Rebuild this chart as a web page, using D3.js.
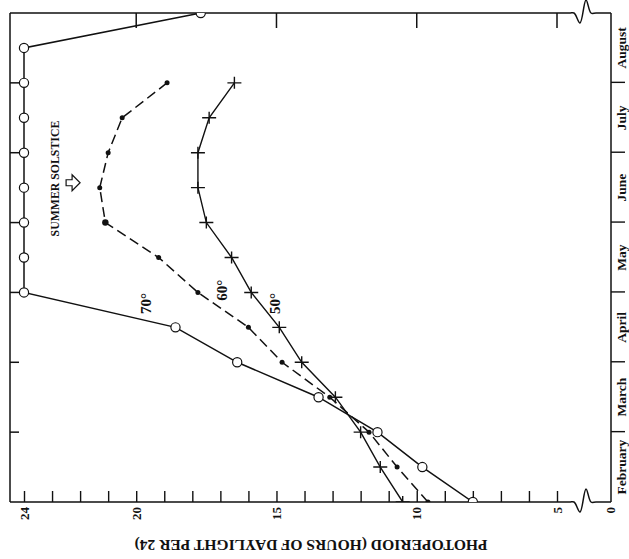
<!DOCTYPE html>
<html>
<head>
<meta charset="utf-8">
<script src="https://cdn.jsdelivr.net/npm/d3@7"></script>
<style>
body { margin: 0; background: #fff; }
svg { display: block; background: #fff; }
text { font-family: "Liberation Serif", "Times New Roman", serif; font-weight: bold; fill: #111; }
.tick line { stroke: #111; stroke-width: 1.4; }
.tick text { font-size: 13px; }
.month { font-size: 13.5px; }
.title { font-size: 15.6px; }
.lat { font-size: 15px; }
.note { font-size: 11.8px; }
</style>
</head>
<body>
<svg id="chart"></svg>
<script>
var months = ["February", "March", "April", "May", "June", "July", "August"];
// half-month steps, 0 = 1 February, 7 = end of August
var dates = [0, 0.5, 1, 1.5, 2, 2.5, 3, 3.5, 4, 4.5, 5, 5.5, 6, 6.5, 7];
var lat70 = [8.0, 9.8, 11.4, 13.5, 16.4, 18.6, 24, 24, 24, 24, 24, 24, 24, 24, 17.7];
var lat60 = [9.6, 10.7, 11.7, 13.1, 14.8, 16.0, 17.8, 19.2, 21.1, 21.3, 21.0, 20.5, 18.9];
var lat50 = [10.5, 11.3, 12.0, 12.9, 14.1, 14.9, 15.9, 16.6, 17.5, 17.8, 17.8, 17.4, 16.5];
var hourLabels = [24, 20, 15, 10, 5];
var latLabels = [
    { text: "70°", t: 2.84, v: 19.65 },
    { text: "60°", t: 3.03, v: 16.95 },
    { text: "50°", t: 2.84, v: 15.05 }
];
var solstice = { text: "SUMMER SOLSTICE", t: 4.63, v: 22.9, arrowT: 4.57, arrowV: 22.25 };

var width = 629,
    height = 559;

var svg = d3.select("#chart")
    .attr("width", width)
    .attr("height", height);

// the whole figure is drawn upright and then turned a quarter turn
var g = svg.append("g")
    .attr("transform", "translate(10,502) rotate(-90)");

var plotW = 489,
    zeroY = 601;

var x = d3.scaleLinear().domain([0, 7]).range([0, plotW]);
var y = d3.scaleLinear().domain([24, 5]).range([14, 547]);

var clip = svg.append("defs").append("clipPath").attr("id", "plot");
clip.append("rect").attr("x", 0).attr("y", 0).attr("width", plotW).attr("height", zeroY);

// frame with the axis breaks
var line = d3.line().curve(d3.curveCatmullRom.alpha(0.5));
function brokenLine(x0) {
    return line([[x0, 0], [x0, 559], [x0, 564], [x0 - 10, 570], [x0 + 13, 576], [x0, 581], [x0, 586], [x0, zeroY]]);
}
var frame = g.append("g")
    .attr("fill", "none")
    .attr("stroke", "#111")
    .attr("stroke-width", 1.5);
frame.append("path").attr("d", brokenLine(0));
frame.append("path").attr("d", brokenLine(plotW));
frame.append("line").attr("x1", 0).attr("x2", plotW).attr("y1", 0).attr("y2", 0);
frame.append("line").attr("x1", 0).attr("x2", plotW).attr("y1", zeroY).attr("y2", zeroY);

// hours axis
var yAxis = g.append("g")
    .call(d3.axisLeft(y)
        .tickValues(d3.range(5, 25))
        .tickSize(-11)
        .tickPadding(5)
        .tickFormat(function(d) { return hourLabels.indexOf(d) >= 0 ? d : ""; }));
yAxis.select(".domain").remove();
g.append("text")
    .attr("x", -5)
    .attr("y", zeroY)
    .attr("dy", "0.32em")
    .attr("text-anchor", "end")
    .style("font-size", "13px")
    .text("0");

// ticks on the opposite side
frame.selectAll(".hr")
    .data(hourLabels.filter(function(d) { return d !== 24; }))
    .enter().append("line")
    .attr("x1", plotW).attr("x2", plotW - 15)
    .attr("y1", function(d) { return y(d); })
    .attr("y2", function(d) { return y(d); });
frame.selectAll(".mt")
    .data([1, 2, 3, 4, 5, 6])
    .enter().append("line")
    .attr("x1", function(d) { return x(d); })
    .attr("x2", function(d) { return x(d); })
    .attr("y1", 0).attr("y2", 9);

// month axis
var xAxis = g.append("g")
    .attr("transform", "translate(0," + zeroY + ")")
    .call(d3.axisBottom(x).tickValues([1, 2, 3, 4, 5, 6]).tickSize(14).tickFormat(""));
xAxis.select(".domain").remove();

g.selectAll(".month")
    .data(months)
    .enter().append("text")
    .attr("class", "month")
    .attr("x", function(d, i) { return x(i + 0.5); })
    .attr("y", zeroY + 14.5)
    .attr("text-anchor", "middle")
    .text(function(d) { return d; });

g.append("text")
    .attr("class", "title")
    .attr("transform", "translate(-43,301) rotate(-90)")
    .attr("dy", "0.35em")
    .attr("text-anchor", "middle")
    .text("PHOTOPERIOD (HOURS OF DAYLIGHT PER 24)");

// series
function pts(vals) {
    return vals.map(function(v, i) { return { t: dates[i], v: v }; });
}
var path = d3.line()
    .x(function(d) { return x(d.t); })
    .y(function(d) { return y(d.v); });

var plot = g.append("g").attr("clip-path", "url(#plot)");

plot.append("path")
    .datum(pts(lat50))
    .attr("d", path)
    .attr("fill", "none").attr("stroke", "#111").attr("stroke-width", 1.4);
plot.append("path")
    .datum(pts(lat60))
    .attr("d", path)
    .attr("fill", "none").attr("stroke", "#111").attr("stroke-width", 1.5)
    .attr("stroke-dasharray", "10,5");
plot.append("path")
    .datum(pts(lat70))
    .attr("d", path)
    .attr("fill", "none").attr("stroke", "#111").attr("stroke-width", 1.5);

plot.selectAll(".cross")
    .data(pts(lat50))
    .enter().append("path")
    .attr("d", function(d) {
        var cx = x(d.t), cy = y(d.v);
        return "M" + (cx - 6) + "," + cy + "H" + (cx + 6) + "M" + cx + "," + (cy - 7) + "V" + (cy + 7);
    })
    .attr("stroke", "#111").attr("stroke-width", 1.4);

plot.selectAll(".dot")
    .data(pts(lat60))
    .enter().append("circle")
    .attr("cx", function(d) { return x(d.t); })
    .attr("cy", function(d) { return y(d.v); })
    .attr("r", function(d, i) { return i === 8 ? 3.2 : 2.5; })
    .attr("fill", "#111");

plot.selectAll(".ring")
    .data(pts(lat70))
    .enter().append("circle")
    .attr("cx", function(d) { return x(d.t); })
    .attr("cy", function(d) { return y(d.v); })
    .attr("r", 4.6)
    .attr("fill", "#fff")
    .attr("stroke", "#111")
    .attr("stroke-width", 1.2);

// annotations
g.selectAll(".lat")
    .data(latLabels)
    .enter().append("text")
    .attr("class", "lat")
    .attr("x", function(d) { return x(d.t); })
    .attr("y", function(d) { return y(d.v); })
    .attr("dy", "0.35em")
    .attr("text-anchor", "middle")
    .text(function(d) { return d.text; });

g.append("text")
    .attr("class", "note")
    .attr("x", x(solstice.t))
    .attr("y", y(solstice.v))
    .attr("dy", "0.35em")
    .attr("text-anchor", "middle")
    .text(solstice.text);

var ax = x(solstice.arrowT), ay = y(solstice.arrowV);
g.append("path")
    .attr("d", "M" + (ax - 3) + "," + (ay - 7) + "H" + (ax + 3) + "V" + (ay - 1) + "H" + (ax + 8) +
        "L" + ax + "," + (ay + 7) + "L" + (ax - 8) + "," + (ay - 1) + "H" + (ax - 3) + "Z")
    .attr("fill", "#fff")
    .attr("stroke", "#111")
    .attr("stroke-width", 1.2);
</script>
</body>
</html>
